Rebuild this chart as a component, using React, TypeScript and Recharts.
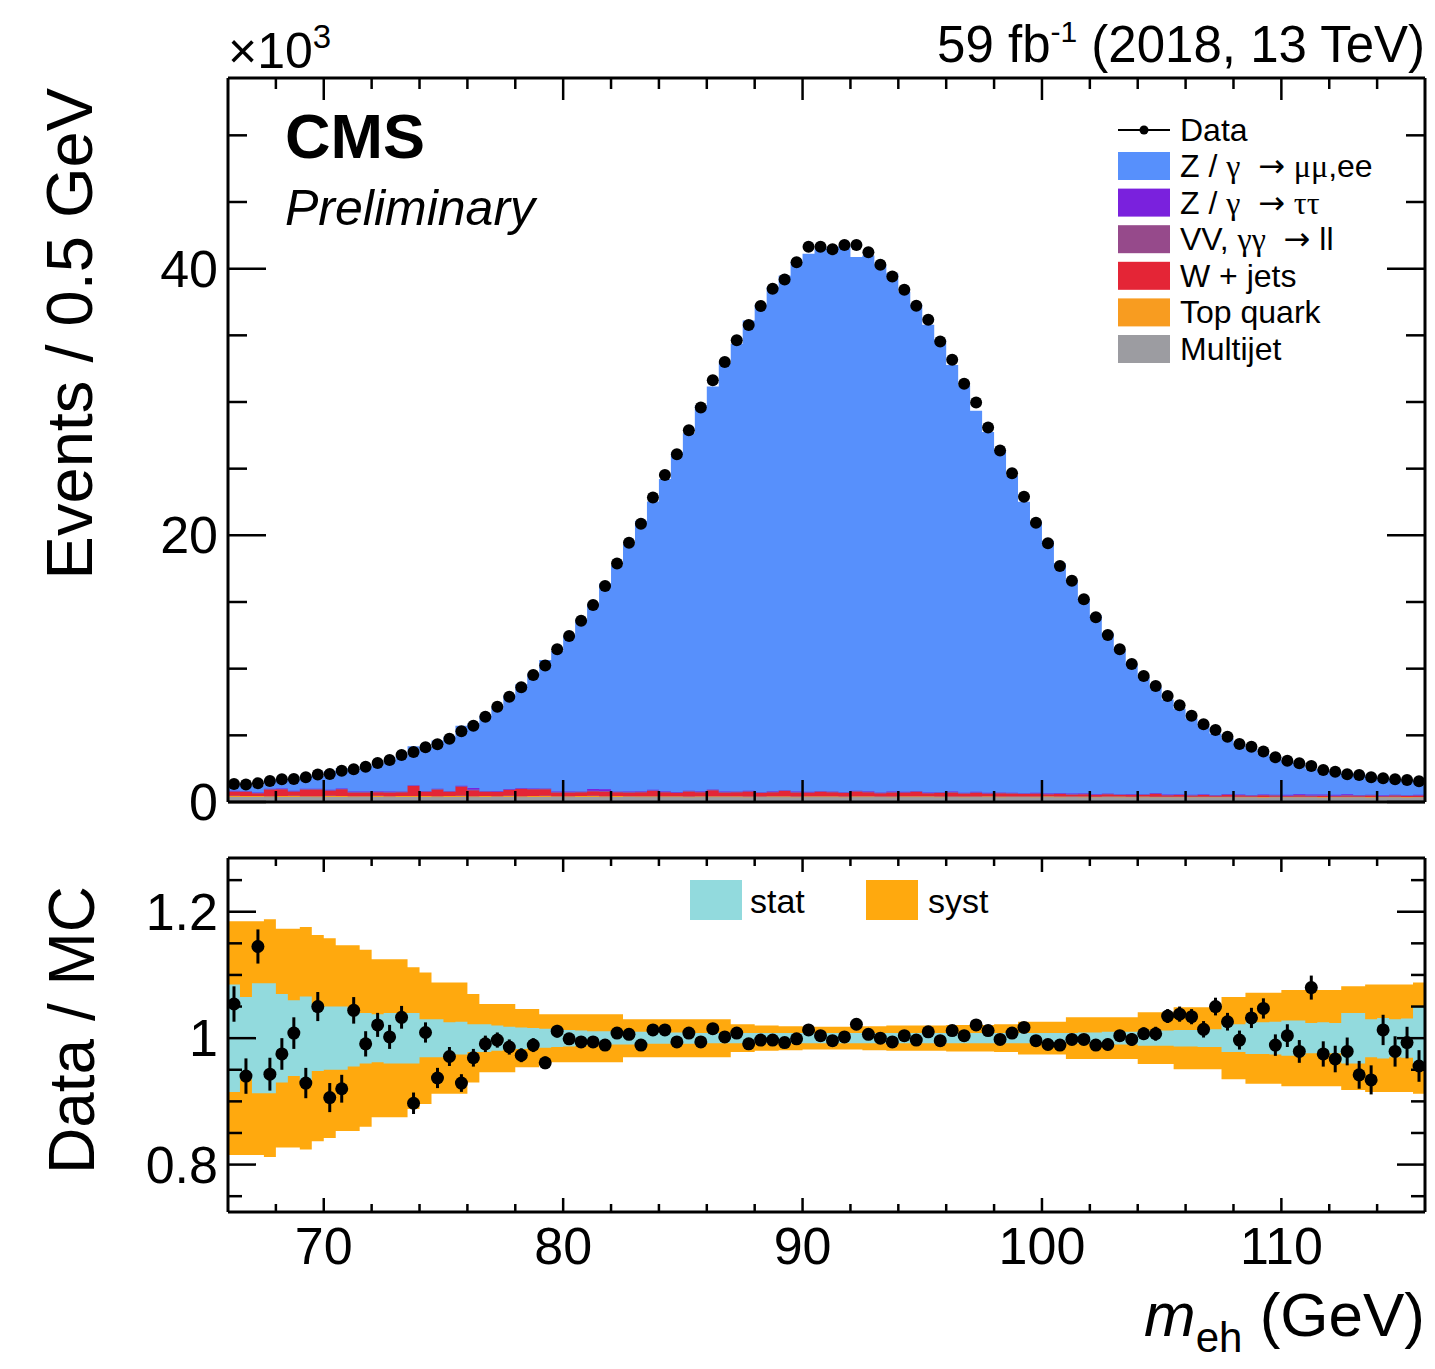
import React from 'react';
import { ComposedChart, Area, Scatter, XAxis, YAxis, ErrorBar } from 'recharts';

const FONT = '"Liberation Sans", Arial, Helvetica, sans-serif';
const GREEK_FONT = '"Liberation Serif", "DejaVu Serif", serif';
const ARROW_FONT = '"DejaVu Sans", sans-serif';

const X_MIN = 66;
const X_MAX = 116;
const BIN_WIDTH = 0.5;

// observed events per 0.5 GeV bin (x10^3)
const dataK = [
  1.35, 1.32, 1.40, 1.58, 1.70, 1.72, 1.85, 2.06, 2.10, 2.35,
  2.45, 2.65, 2.93, 3.15, 3.53, 3.75, 4.10, 4.33, 4.75, 5.30,
  5.72, 6.40, 7.15, 7.90, 8.60, 9.53, 10.23, 11.45, 12.45, 13.60,
  14.78, 16.20, 17.88, 19.45, 20.86, 22.83, 24.53, 26.08, 27.88, 29.58,
  31.63, 33.00, 34.63, 35.78, 37.20, 38.50, 39.18, 40.48, 41.65, 41.65,
  41.45, 41.78, 41.78, 41.24, 40.29, 39.41, 38.41, 37.21, 36.16, 34.53,
  33.16, 31.36, 29.96, 28.08, 26.36, 24.66, 22.90, 20.95, 19.40, 17.70,
  16.60, 15.20, 13.85, 12.53, 11.46, 10.35, 9.45, 8.70, 7.95, 7.25,
  6.47, 5.83, 5.40, 4.90, 4.35, 4.15, 3.78, 3.35, 3.10, 2.90,
  2.70, 2.40, 2.27, 2.08, 2.03, 1.85, 1.78, 1.70, 1.65, 1.55,
];

// total simulation (top of the stack), dominated by Z/gamma -> mumu,ee
const mcTotalK = [
  1.28, 1.40, 1.22, 1.68, 1.74, 1.71, 1.99, 1.96, 2.32, 2.55,
  2.35, 2.67, 2.87, 3.14, 3.42, 4.18, 4.06, 4.62, 4.89, 5.71,
  5.90, 6.46, 7.17, 8.01, 8.84, 9.64, 10.65, 11.33, 12.46, 13.68,
  14.87, 16.38, 17.74, 19.33, 21.09, 22.54, 24.22, 26.24, 27.66, 29.76,
  31.16, 32.93, 34.36, 36.11, 37.31, 38.62, 39.46, 40.52, 41.12, 41.48,
  41.62, 41.70, 40.88, 40.99, 40.29, 39.65, 38.26, 37.32, 35.80, 34.67,
  32.77, 31.24, 29.34, 27.75, 26.41, 24.46, 22.52, 21.03, 19.60, 17.90,
  16.63, 15.23, 14.00, 12.66, 11.41, 10.37, 9.38, 8.64, 7.68, 6.99,
  6.26, 5.75, 5.14, 4.78, 4.36, 4.02, 3.61, 3.39, 3.09, 2.96,
  2.50, 2.46, 2.35, 2.13, 2.16, 1.98, 1.76, 1.74, 1.66, 1.62,
];

// small backgrounds, stacked from the bottom (x10^3)
const multijetK = [
  0.38, 0.37, 0.38, 0.36, 0.37, 0.38, 0.37, 0.36, 0.38, 0.37,
  0.36, 0.37, 0.38, 0.36, 0.37, 0.37, 0.38, 0.36, 0.37, 0.38,
  0.36, 0.37, 0.37, 0.38, 0.36, 0.37, 0.38, 0.37, 0.36, 0.37,
  0.38, 0.36, 0.37, 0.37, 0.36, 0.35, 0.36, 0.35, 0.34, 0.36,
  0.35, 0.36, 0.35, 0.34, 0.35, 0.36, 0.35, 0.34, 0.35, 0.36,
  0.35, 0.34, 0.35, 0.36, 0.35, 0.34, 0.35, 0.35, 0.36, 0.34,
  0.35, 0.34, 0.35, 0.36, 0.34, 0.35, 0.35, 0.34, 0.35, 0.34,
  0.35, 0.34, 0.34, 0.35, 0.34, 0.33, 0.34, 0.33, 0.34, 0.33,
  0.33, 0.34, 0.33, 0.33, 0.34, 0.33, 0.32, 0.33, 0.34, 0.33,
  0.33, 0.32, 0.33, 0.34, 0.33, 0.32, 0.33, 0.33, 0.32, 0.33,
];
const topK = [
  0.08, 0.08, 0.07, 0.08, 0.08, 0.08, 0.07, 0.08, 0.08, 0.08,
  0.08, 0.07, 0.08, 0.08, 0.08, 0.08, 0.07, 0.08, 0.08, 0.08,
  0.08, 0.08, 0.07, 0.08, 0.08, 0.08, 0.08, 0.07, 0.08, 0.08,
  0.08, 0.08, 0.08, 0.07, 0.08, 0.08, 0.08, 0.08, 0.07, 0.08,
  0.08, 0.08, 0.08, 0.08, 0.07, 0.08, 0.08, 0.08, 0.08, 0.07,
  0.08, 0.08, 0.08, 0.08, 0.07, 0.08, 0.08, 0.08, 0.07, 0.08,
  0.07, 0.08, 0.07, 0.07, 0.08, 0.07, 0.07, 0.07, 0.08, 0.07,
  0.07, 0.07, 0.06, 0.07, 0.07, 0.06, 0.07, 0.06, 0.06, 0.07,
  0.06, 0.06, 0.06, 0.07, 0.06, 0.06, 0.06, 0.06, 0.05, 0.06,
  0.06, 0.05, 0.06, 0.05, 0.06, 0.05, 0.05, 0.06, 0.05, 0.05,
];
const wjetsK = [
  0.32, 0.32, 0.20, 0.50, 0.50, 0.32, 0.50, 0.50, 0.40, 0.50,
  0.28, 0.28, 0.28, 0.28, 0.28, 0.75, 0.32, 0.50, 0.32, 0.70,
  0.45, 0.32, 0.32, 0.45, 0.55, 0.50, 0.50, 0.28, 0.28, 0.28,
  0.35, 0.35, 0.28, 0.28, 0.30, 0.42, 0.30, 0.26, 0.38, 0.30,
  0.45, 0.28, 0.30, 0.36, 0.26, 0.30, 0.40, 0.30, 0.28, 0.34,
  0.30, 0.26, 0.36, 0.30, 0.24, 0.30, 0.28, 0.34, 0.22, 0.26,
  0.30, 0.22, 0.28, 0.20, 0.24, 0.22, 0.18, 0.22, 0.16, 0.20,
  0.15, 0.18, 0.14, 0.16, 0.12, 0.15, 0.12, 0.22, 0.10, 0.12,
  0.10, 0.12, 0.08, 0.14, 0.10, 0.08, 0.12, 0.10, 0.06, 0.12,
  0.08, 0.10, 0.06, 0.10, 0.08, 0.12, 0.06, 0.10, 0.08, 0.10,
];
const vvK = [
  0.03, 0.03, 0.03, 0.03, 0.03, 0.03, 0.03, 0.03, 0.03, 0.03,
  0.03, 0.03, 0.03, 0.03, 0.03, 0.03, 0.03, 0.03, 0.03, 0.03,
  0.04, 0.03, 0.03, 0.03, 0.03, 0.03, 0.03, 0.03, 0.03, 0.03,
  0.04, 0.04, 0.03, 0.03, 0.03, 0.03, 0.03, 0.03, 0.03, 0.03,
  0.03, 0.03, 0.03, 0.03, 0.03, 0.03, 0.03, 0.03, 0.03, 0.03,
  0.03, 0.03, 0.03, 0.03, 0.03, 0.03, 0.03, 0.03, 0.03, 0.03,
  0.03, 0.03, 0.03, 0.03, 0.03, 0.03, 0.03, 0.03, 0.03, 0.03,
  0.03, 0.03, 0.03, 0.03, 0.03, 0.03, 0.03, 0.03, 0.03, 0.03,
  0.03, 0.03, 0.03, 0.03, 0.03, 0.03, 0.03, 0.03, 0.03, 0.03,
  0.03, 0.03, 0.03, 0.03, 0.03, 0.03, 0.03, 0.03, 0.03, 0.03,
];
const tautauK = [
  0.03, 0.03, 0.03, 0.03, 0.03, 0.03, 0.03, 0.03, 0.03, 0.03,
  0.03, 0.03, 0.03, 0.03, 0.03, 0.03, 0.03, 0.03, 0.03, 0.03,
  0.12, 0.03, 0.03, 0.03, 0.03, 0.03, 0.03, 0.03, 0.03, 0.03,
  0.12, 0.12, 0.03, 0.03, 0.03, 0.03, 0.03, 0.03, 0.03, 0.03,
  0.03, 0.03, 0.03, 0.03, 0.03, 0.03, 0.03, 0.03, 0.03, 0.03,
  0.03, 0.03, 0.03, 0.03, 0.03, 0.03, 0.03, 0.03, 0.03, 0.03,
  0.03, 0.03, 0.03, 0.03, 0.03, 0.03, 0.03, 0.03, 0.03, 0.03,
  0.03, 0.03, 0.03, 0.03, 0.03, 0.03, 0.03, 0.03, 0.03, 0.03,
  0.03, 0.03, 0.03, 0.03, 0.03, 0.03, 0.03, 0.03, 0.06, 0.06,
  0.06, 0.06, 0.06, 0.06, 0.03, 0.03, 0.03, 0.03, 0.03, 0.03,
];

// Data / MC per bin and its statistical error
const ratio = [
  1.054, 0.940, 1.145, 0.943, 0.975, 1.008, 0.929, 1.050, 0.906, 0.920,
  1.044, 0.991, 1.021, 1.002, 1.033, 0.897, 1.009, 0.937, 0.971, 0.929,
  0.969, 0.991, 0.997, 0.986, 0.973, 0.989, 0.961, 1.011, 0.999, 0.994,
  0.994, 0.989, 1.008, 1.006, 0.989, 1.013, 1.013, 0.994, 1.008, 0.994,
  1.015, 1.002, 1.008, 0.991, 0.997, 0.997, 0.993, 0.999, 1.013, 1.004,
  0.996, 1.002, 1.022, 1.006, 1.000, 0.994, 1.004, 0.997, 1.010, 0.996,
  1.012, 1.004, 1.021, 1.012, 0.998, 1.008, 1.017, 0.996, 0.990, 0.989,
  0.998, 0.998, 0.989, 0.990, 1.004, 0.998, 1.007, 1.007, 1.035, 1.038,
  1.034, 1.014, 1.050, 1.026, 0.997, 1.032, 1.047, 0.989, 1.004, 0.979,
  1.080, 0.975, 0.967, 0.979, 0.942, 0.934, 1.013, 0.979, 0.993, 0.956,
];
const ratioErr = [
  0.028, 0.028, 0.027, 0.026, 0.025, 0.025, 0.024, 0.023, 0.023, 0.022,
  0.021, 0.020, 0.019, 0.019, 0.018, 0.017, 0.016, 0.016, 0.015, 0.014,
  0.014, 0.013, 0.012, 0.012, 0.011, 0.011, 0.010, 0.010, 0.009, 0.009,
  0.008, 0.008, 0.008, 0.007, 0.007, 0.007, 0.007, 0.006, 0.006, 0.006,
  0.006, 0.006, 0.006, 0.005, 0.005, 0.005, 0.005, 0.005, 0.005, 0.005,
  0.005, 0.005, 0.005, 0.005, 0.005, 0.005, 0.005, 0.005, 0.005, 0.005,
  0.006, 0.006, 0.006, 0.006, 0.006, 0.006, 0.007, 0.007, 0.007, 0.007,
  0.008, 0.008, 0.009, 0.009, 0.009, 0.010, 0.010, 0.011, 0.011, 0.012,
  0.012, 0.013, 0.014, 0.014, 0.015, 0.016, 0.016, 0.017, 0.018, 0.018,
  0.019, 0.020, 0.021, 0.022, 0.022, 0.023, 0.024, 0.024, 0.025, 0.025,
];

// half-widths of the uncertainty bands around 1
const statErr = [
  0.085, 0.065, 0.087, 0.087, 0.070, 0.060, 0.066, 0.052, 0.050, 0.050,
  0.045, 0.040, 0.038, 0.040, 0.040, 0.040, 0.030, 0.030, 0.025, 0.026,
  0.022, 0.022, 0.020, 0.018, 0.017, 0.016, 0.015, 0.014, 0.013, 0.012,
  0.011, 0.011, 0.010, 0.010, 0.010, 0.009, 0.009, 0.009, 0.009, 0.008,
  0.008, 0.008, 0.008, 0.008, 0.008, 0.008, 0.008, 0.008, 0.008, 0.008,
  0.008, 0.008, 0.008, 0.008, 0.008, 0.008, 0.008, 0.008, 0.008, 0.008,
  0.008, 0.008, 0.008, 0.008, 0.008, 0.008, 0.008, 0.008, 0.008, 0.008,
  0.008, 0.009, 0.009, 0.010, 0.010, 0.010, 0.012, 0.012, 0.012, 0.013,
  0.013, 0.014, 0.014, 0.022, 0.022, 0.025, 0.025, 0.026, 0.028, 0.028,
  0.024, 0.025, 0.024, 0.040, 0.040, 0.030, 0.032, 0.030, 0.031, 0.050,
];
const systErr = [
  0.185, 0.185, 0.185, 0.188, 0.173, 0.173, 0.176, 0.163, 0.158, 0.147,
  0.147, 0.140, 0.125, 0.125, 0.125, 0.112, 0.104, 0.088, 0.088, 0.088,
  0.070, 0.054, 0.054, 0.054, 0.046, 0.046, 0.038, 0.038, 0.038, 0.038,
  0.038, 0.038, 0.038, 0.030, 0.030, 0.030, 0.030, 0.030, 0.030, 0.030,
  0.030, 0.030, 0.022, 0.022, 0.020, 0.020, 0.019, 0.019, 0.018, 0.018,
  0.018, 0.018, 0.018, 0.019, 0.019, 0.020, 0.020, 0.020, 0.020, 0.020,
  0.021, 0.021, 0.021, 0.021, 0.022, 0.022, 0.026, 0.026, 0.026, 0.026,
  0.033, 0.033, 0.033, 0.033, 0.033, 0.033, 0.041, 0.041, 0.041, 0.049,
  0.049, 0.049, 0.049, 0.065, 0.065, 0.072, 0.072, 0.072, 0.076, 0.076,
  0.076, 0.076, 0.076, 0.082, 0.082, 0.085, 0.085, 0.085, 0.085, 0.088,
];

const xTicks = [68, 70, 72, 74, 76, 78, 80, 82, 84, 86, 88, 90, 92, 94, 96, 98, 100, 102, 104, 106, 108, 110, 112, 114];
const xMajor = [70, 80, 90, 100, 110];
const yTicksMain = [0, 5, 10, 15, 20, 25, 30, 35, 40, 45, 50];
const yMajorMain = [0, 20, 40];
const yTicksRatio = [0.75, 0.8, 0.85, 0.9, 0.95, 1, 1.05, 1.1, 1.15, 1.2, 1.25];
const yMajorRatio = [0.8, 1, 1.2];

const Y_MAIN: [number, number] = [0, 54.3];
const Y_RATIO: [number, number] = [0.725, 1.285];

const COLORS = {
  dy: '#5790fc',
  tautau: '#7a21dd',
  vv: '#964a8b',
  wjets: '#e42536',
  top: '#f89c20',
  multijet: '#9c9ca1',
  stat: '#92dadd',
  syst: '#ffa90e',
};

// histogram rows at bin lower edges, closing row at the upper edge
const histRows = Array.from({ length: dataK.length + 1 }, (_, i) => {
  const j = Math.min(i, dataK.length - 1);
  return {
    x: X_MIN + i * BIN_WIDTH,
    mc: mcTotalK[j],
    multijet: multijetK[j],
    top: topK[j],
    wjets: wjetsK[j],
    vv: vvK[j],
    tautau: tautauK[j],
    stat: [1 - statErr[j], 1 + statErr[j]],
    syst: [1 - systErr[j], 1 + systErr[j]],
  };
});

const dataPoints = dataK.map((v, i) => ({ x: X_MIN + (i + 0.5) * BIN_WIDTH, y: v }));
const ratioPoints = ratio.map((v, i) => ({ x: X_MIN + (i + 0.5) * BIN_WIDTH, y: v, err: ratioErr[i] }));

const isIn = (list: number[], v: number) => list.some(m => Math.abs(m - v) < 1e-6);

const FRAME = { stroke: '#000', strokeWidth: 3 };

function xTick(side: 'top' | 'bottom', majorLen: number, minorLen: number, labels: boolean) {
  return (props: any) => {
    const { x, y, payload } = props;
    const major = isIn(xMajor, payload.value);
    const len = major ? majorLen : minorLen;
    const dir = side === 'bottom' ? -1 : 1;
    return (
      <g>
        <line x1={x} y1={y} x2={x} y2={y + dir * len} stroke="#000" strokeWidth={2.5} />
        {labels && major && (
          <text x={x} y={y + 52} textAnchor="middle" fontSize={52} fontFamily={FONT} fill="#000">
            {payload.value}
          </text>
        )}
      </g>
    );
  };
}

function yTick(side: 'left' | 'right', majors: number[], majorLen: number, minorLen: number) {
  return (props: any) => {
    const { x, y, payload } = props;
    const major = isIn(majors, payload.value);
    const len = major ? majorLen : minorLen;
    const dir = side === 'left' ? 1 : -1;
    return (
      <g>
        <line x1={x} y1={y} x2={x + dir * len} y2={y} stroke="#000" strokeWidth={2.5} />
        {side === 'left' && major && (
          <text x={x - 10} y={y + 18} textAnchor="end" fontSize={52} fontFamily={FONT} fill="#000">
            {String(payload.value)}
          </text>
        )}
      </g>
    );
  };
}

const dot = (props: any) => <circle cx={props.cx} cy={props.cy} r={6} fill="#000" />;
const ratioDot = (props: any) => <circle cx={props.cx} cy={props.cy} r={6.5} fill="#000" />;
const noShape = () => <g />;

type FrameProps = {
  height: number;
  margin: { top: number; right: number; bottom: number; left: number };
  yDomain: [number, number];
  yTicks: number[];
  yMajor: number[];
  yMajorLen: number;
  yMinorLen: number;
  xMajorLen: number;
  xMinorLen: number;
  bottomHeight: number;
  labelsX: boolean;
};

// Axes drawn in their own transparent chart so the ticks sit above the filled histograms.
// Each axis keeps a 1px band so the library still lays it out and draws it.
function AxisFrame(p: FrameProps) {
  return (
    <ComposedChart width={1435} height={p.height} data={histRows} margin={p.margin}>
      <Scatter data={dataPoints} dataKey="y" shape={noShape} isAnimationActive={false} />
      <Scatter data={dataPoints} dataKey="y" xAxisId="top" yAxisId="right" shape={noShape} isAnimationActive={false} />
      <XAxis dataKey="x" type="number" domain={[X_MIN, X_MAX]} allowDataOverflow ticks={xTicks} interval={0}
        height={p.bottomHeight} tickSize={0} tickMargin={0} tickLine={false} axisLine={FRAME}
        tick={xTick('bottom', p.xMajorLen, p.xMinorLen, p.labelsX)} />
      <XAxis dataKey="x" xAxisId="top" orientation="top" type="number" domain={[X_MIN, X_MAX]} allowDataOverflow ticks={xTicks} interval={0}
        height={1} tickSize={0} tickMargin={0} tickLine={false} axisLine={FRAME}
        tick={xTick('top', p.xMajorLen, p.xMinorLen, false)} />
      <YAxis type="number" domain={p.yDomain} allowDataOverflow ticks={p.yTicks} interval={0}
        width={228} tickSize={0} tickMargin={0} tickLine={false} axisLine={FRAME}
        tick={yTick('left', p.yMajor, p.yMajorLen, p.yMinorLen)} />
      <YAxis yAxisId="right" orientation="right" type="number" domain={p.yDomain} allowDataOverflow ticks={p.yTicks} interval={0}
        width={1} tickSize={0} tickMargin={0} tickLine={false} axisLine={FRAME}
        tick={yTick('right', p.yMajor, p.yMajorLen, p.yMinorLen)} />
    </ComposedChart>
  );
}

const legendEntries = [
  { label: 'Z / γ  → μμ,ee', color: COLORS.dy },
  { label: 'Z / γ  → ττ', color: COLORS.tautau },
  { label: 'VV, γγ  → ll', color: COLORS.vv },
  { label: 'W + jets', color: COLORS.wjets },
  { label: 'Top quark', color: COLORS.top },
  { label: 'Multijet', color: COLORS.multijet },
];

// Greek letters in a serif face and the arrow in a wider glyph, like ROOT's symbol font
function richLabel(label: string) {
  return label.split(/([α-ω]+|→)/).map((seg, i) => {
    if (seg === '→') return <tspan key={i} fontFamily={ARROW_FONT}>{seg}</tspan>;
    if (/[α-ω]/.test(seg)) return <tspan key={i} fontFamily={GREEK_FONT}>{seg}</tspan>;
    return <tspan key={i}>{seg}</tspan>;
  });
}

function Annotations() {
  return (
    <svg width={1435} height={1369} style={{ position: 'absolute', left: 0, top: 0, pointerEvents: 'none' }} fontFamily={FONT}>
      <text x={228} y={68} fontSize={50}>
        ×10<tspan dy={-20} fontSize={33}>3</tspan>
      </text>
      <text x={1425} y={62} fontSize={51} textAnchor="end">
        59 fb<tspan dy={-20} fontSize={30}>-1</tspan>
        <tspan dy={20}> (2018, 13 TeV)</tspan>
      </text>
      <text x={285} y={158} fontSize={63} fontWeight="bold">CMS</text>
      <text x={285} y={225} fontSize={50} fontStyle="italic">Preliminary</text>

      <text transform="translate(92, 88) rotate(-90)" fontSize={65} textAnchor="end">Events / 0.5 GeV</text>
      <text transform="translate(94, 1030) rotate(-90)" fontSize={64} textAnchor="middle">Data / MC</text>
      <text x={1425} y={1336} fontSize={62} textAnchor="end">
        <tspan fontStyle="italic">m</tspan>
        <tspan fontSize={42} dy={16}>eh</tspan>
        <tspan dy={-16}> (GeV)</tspan>
      </text>

      {/* stack legend */}
      <line x1={1118} y1={130} x2={1170} y2={130} stroke="#000" strokeWidth={2} />
      <circle cx={1144} cy={130} r={4.5} fill="#000" />
      <text x={1180} y={141} fontSize={32}>Data</text>
      {legendEntries.map((e, i) => {
        const cy = 166 + i * 36.6;
        return (
          <g key={e.label}>
            <rect x={1118} y={cy - 14} width={52} height={28} fill={e.color} />
            <text x={1180} y={cy + 11} fontSize={32} style={{ whiteSpace: 'pre' }}>{richLabel(e.label)}</text>
          </g>
        );
      })}

      {/* ratio legend */}
      <rect x={690} y={880} width={52} height={40} fill={COLORS.stat} />
      <text x={750} y={913} fontSize={34}>stat</text>
      <rect x={866} y={880} width={52} height={40} fill={COLORS.syst} />
      <text x={928} y={913} fontSize={34}>syst</text>
    </svg>
  );
}

const MAIN_MARGIN = { top: 78, right: 10, bottom: 28, left: 228 };
const RATIO_MARGIN = { top: 28, right: 10, bottom: 157, left: 228 };

export default function App() {
  return (
    <div style={{ position: 'absolute', left: 0, top: 0, width: 1435, height: 1369, background: '#fff', fontFamily: FONT }}>
      <div style={{ position: 'absolute', left: 0, top: 0 }}>
        <ComposedChart width={1435} height={830} data={histRows} margin={MAIN_MARGIN}>
          <XAxis dataKey="x" type="number" domain={[X_MIN, X_MAX]} allowDataOverflow hide />
          <YAxis type="number" domain={Y_MAIN} allowDataOverflow hide />
          <Area dataKey="mc" type="stepAfter" fill={COLORS.dy} fillOpacity={1} stroke="none" isAnimationActive={false} />
          <Area dataKey="multijet" stackId="bkg" type="stepAfter" fill={COLORS.multijet} fillOpacity={1} stroke="none" isAnimationActive={false} />
          <Area dataKey="top" stackId="bkg" type="stepAfter" fill={COLORS.top} fillOpacity={1} stroke="none" isAnimationActive={false} />
          <Area dataKey="wjets" stackId="bkg" type="stepAfter" fill={COLORS.wjets} fillOpacity={1} stroke="none" isAnimationActive={false} />
          <Area dataKey="vv" stackId="bkg" type="stepAfter" fill={COLORS.vv} fillOpacity={1} stroke="none" isAnimationActive={false} />
          <Area dataKey="tautau" stackId="bkg" type="stepAfter" fill={COLORS.tautau} fillOpacity={1} stroke="none" isAnimationActive={false} />
          <Scatter data={dataPoints} dataKey="y" shape={dot} isAnimationActive={false} />
        </ComposedChart>
      </div>
      <div style={{ position: 'absolute', left: 0, top: 0 }}>
        <AxisFrame height={830} margin={{ top: 77, right: 9, bottom: 27, left: 0 }} yDomain={Y_MAIN}
          yTicks={yTicksMain} yMajor={yMajorMain} yMajorLen={38} yMinorLen={19}
          xMajorLen={22} xMinorLen={11} bottomHeight={1} labelsX={false} />
      </div>

      <div style={{ position: 'absolute', left: 0, top: 830 }}>
        <ComposedChart width={1435} height={539} data={histRows} margin={RATIO_MARGIN}>
          <XAxis dataKey="x" type="number" domain={[X_MIN, X_MAX]} allowDataOverflow hide />
          <YAxis type="number" domain={Y_RATIO} allowDataOverflow hide />
          <Area dataKey="syst" type="stepAfter" fill={COLORS.syst} fillOpacity={1} stroke="none" isAnimationActive={false} />
          <Area dataKey="stat" type="stepAfter" fill={COLORS.stat} fillOpacity={1} stroke="none" isAnimationActive={false} />
          <Scatter data={ratioPoints} dataKey="y" shape={ratioDot} isAnimationActive={false}>
            <ErrorBar dataKey="err" direction="y" width={0} stroke="#000" strokeWidth={3} />
          </Scatter>
        </ComposedChart>
      </div>
      <div style={{ position: 'absolute', left: 0, top: 830 }}>
        <AxisFrame height={539} margin={{ top: 27, right: 9, bottom: 0, left: 0 }} yDomain={Y_RATIO}
          yTicks={yTicksRatio} yMajor={yMajorRatio} yMajorLen={28} yMinorLen={14}
          xMajorLen={14} xMinorLen={8} bottomHeight={157} labelsX={true} />
      </div>
      <Annotations />
    </div>
  );
}
